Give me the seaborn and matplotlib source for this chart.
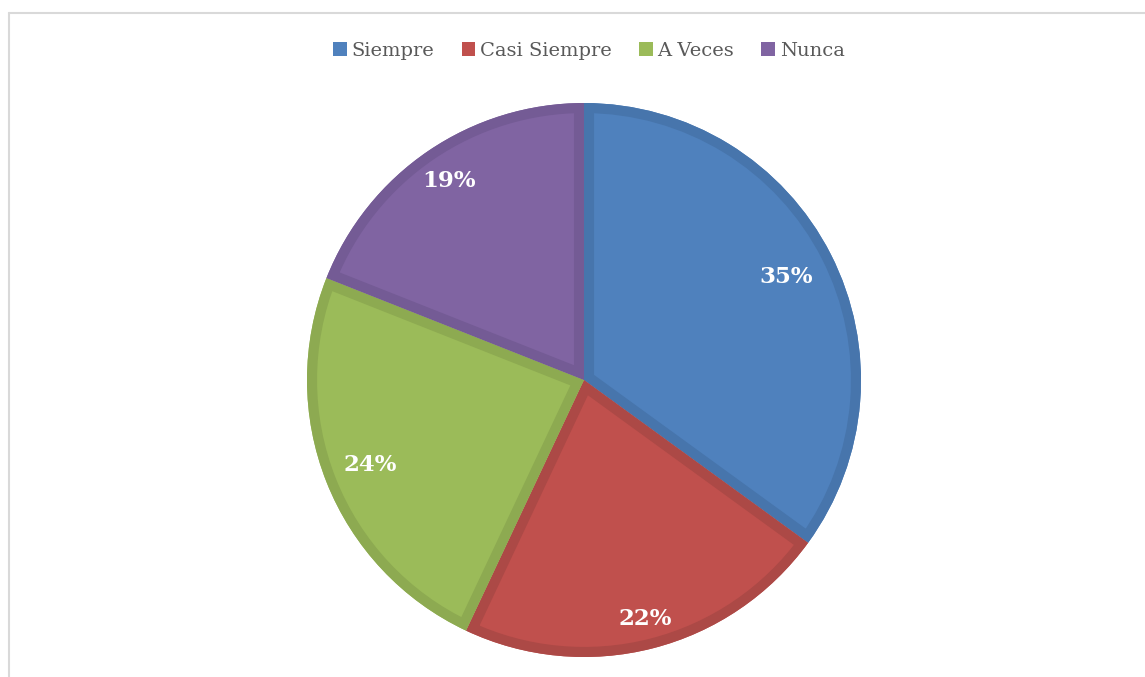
import matplotlib
matplotlib.use("Agg")
import matplotlib.pyplot as plt
from matplotlib.patches import Patch, Wedge
from matplotlib.lines import Line2D
import seaborn as sns

categories = ["Siempre", "Casi Siempre", "A Veces", "Nunca"]
values = [35, 22, 24, 19]
colors = ["#4F81BD", "#C0504D", "#9BBB59", "#8064A2"]
edge_colors = ["#4775AC", "#AC4946", "#8DAA51", "#745B95"]
# radial placement of each percentage label (fraction of radius)
label_dist = [0.82, 0.89, 0.83, 0.87]

sns.set_theme(style="white")
plt.rcParams["font.family"] = ["DejaVu Serif"]

fig = plt.figure(figsize=(11.45, 6.77), dpi=100)
ax = fig.add_axes([307 / 1145, 20 / 677, 554 / 1145, 554 / 677])

wedges, texts, autotexts = ax.pie(
    values,
    colors=colors,
    startangle=90,
    counterclock=False,
    autopct="%1.0f%%",
    pctdistance=0.85,
    radius=1,
    wedgeprops=dict(linewidth=0),
    textprops=dict(color="white", fontsize=16.5, fontweight="bold", zorder=5),
)
for t, d in zip(autotexts, label_dist):
    x, y = t.get_position()
    t.set_position((x * d / 0.85, y * d / 0.85))

# darker inner border on each slice: a stroked copy clipped to the slice
for w, ec in zip(wedges, edge_colors):
    border = Wedge(w.center, w.r, w.theta1, w.theta2, facecolor="none",
                   edgecolor=ec, linewidth=14.5, joinstyle="miter", zorder=w.get_zorder() + 0.1)
    ax.add_patch(border)
    border.set_clip_path(w)

ax.set_xlim(-1, 1)
ax.set_ylim(-1, 1)
ax.set_aspect("equal")
ax.axis("off")

handles = [Patch(facecolor=c, edgecolor="none") for c in colors]
leg = fig.legend(
    handles, categories,
    loc="center", bbox_to_anchor=(589 / 1145, 1 - 51 / 677),
    ncol=4, frameon=False, fontsize=14,
    handlelength=0.7, handleheight=0.7, handletextpad=0.25,
    columnspacing=1.4,
)
for t in leg.get_texts():
    t.set_color("#595959")

# light gray chart frame (top and left edges visible)
fig.add_artist(Line2D([8.5 / 1145, 1.0], [1 - 12.5 / 677, 1 - 12.5 / 677],
                      transform=fig.transFigure, color="#D9D9D9", lw=1.5))
fig.add_artist(Line2D([8.5 / 1145, 8.5 / 1145], [0, 1 - 12.5 / 677],
                      transform=fig.transFigure, color="#D9D9D9", lw=1.5))

fig.savefig("out.png", dpi=100)
plt.close()
